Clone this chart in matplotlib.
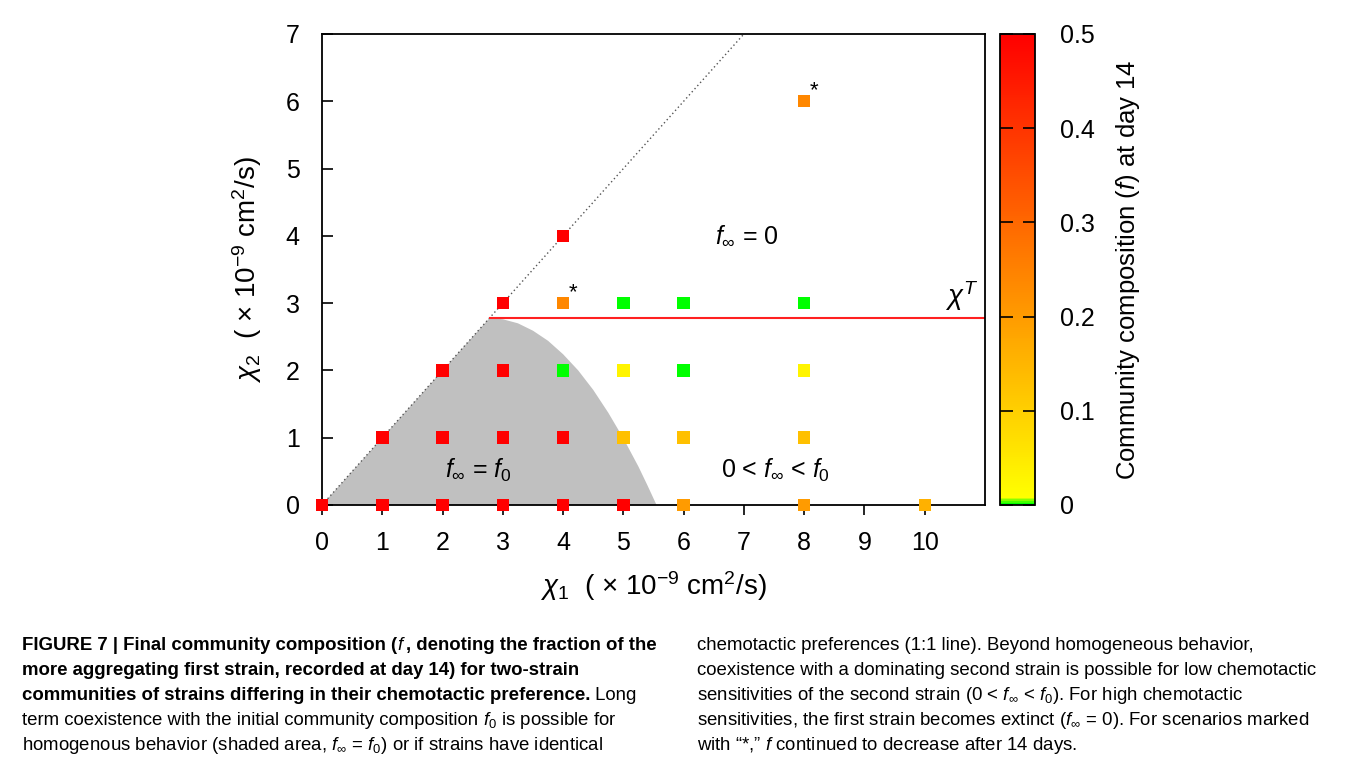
import numpy as np
import matplotlib
matplotlib.use("Agg")
import matplotlib.pyplot as plt
from matplotlib.colors import LinearSegmentedColormap, Normalize
from matplotlib.patches import Polygon

plt.rcParams['font.family'] = ['Liberation Sans', 'DejaVu Sans']
plt.rcParams['mathtext.fontset'] = 'custom'
plt.rcParams['mathtext.rm'] = 'Liberation Sans'
plt.rcParams['mathtext.it'] = 'Liberation Sans:italic'
plt.rcParams['mathtext.bf'] = 'Liberation Sans:bold'

# simulated scenarios: chi1, chi2, community composition f at day 14
chi1 = [0, 1, 2, 3, 4, 5, 6, 8, 10,
        1, 2, 3, 4, 5, 6, 8,
        2, 3, 4, 5, 6, 8,
        3, 4, 5, 6, 8,
        4, 8]
chi2 = [0, 0, 0, 0, 0, 0, 0, 0, 0,
        1, 1, 1, 1, 1, 1, 1,
        2, 2, 2, 2, 2, 2,
        3, 3, 3, 3, 3,
        4, 6]
f14 = [0.5, 0.5, 0.5, 0.5, 0.5, 0.5, 0.2, 0.2, 0.16,
       0.5, 0.5, 0.5, 0.5, 0.13, 0.13, 0.13,
       0.5, 0.5, 0.0, 0.03, 0.0, 0.03,
       0.5, 0.24, 0.0, 0.0, 0.0,
       0.5, 0.24]
star_x = [4, 8]
star_y = [3, 6]

# threshold chi^T and boundary of homogeneous region
chi_T = 2.78
bound_x = [2.78, 3.0, 3.25, 3.5, 3.75, 4.0, 4.25, 4.5, 4.75, 5.0, 5.25, 5.4, 5.55]
bound_y = [2.78, 2.76, 2.70, 2.59, 2.44, 2.24, 2.00, 1.71, 1.37, 0.99, 0.57, 0.29, 0.0]

cmap = LinearSegmentedColormap.from_list(
    'fcomp', [(0.0, '#00ff00'), (0.015, '#ffff00'), (1.0, '#ff0000')])
norm = Normalize(0, 0.5)

fig = plt.figure(figsize=(13.56, 7.62), dpi=100)
ax = fig.add_axes([0.2375, 0.3373, 0.4889, 0.6181])

# shaded area
poly_x = [0] + bound_x
poly_y = [0] + bound_y
ax.add_patch(Polygon(np.c_[poly_x, poly_y], closed=True, color='#c0c0c0', lw=0, zorder=1))

ax.plot([0, 7], [0, 7], ls=(0, (1, 2)), color='#555555', lw=1, zorder=2)
ax.plot([chi_T, 11], [chi_T, chi_T], color='#ff2020', lw=1.5, zorder=2)

ax.scatter(chi1, chi2, c=f14, cmap=cmap, norm=norm, marker='s', s=80,
           linewidths=0, zorder=5, clip_on=False)
for sx, sy in zip(star_x, star_y):
    ax.text(sx + 0.17, sy + 0.16, '*', fontsize=16, ha='center', va='center', zorder=6)

ax.text(7.05, 4.0, r'$f_\infty$ = 0', fontsize=18, ha='center', va='center')
ax.text(2.6, 0.52, r'$f_\infty$ = $f_0$', fontsize=18, ha='center', va='center')
ax.text(7.52, 0.52, r'0 < $f_\infty$ < $f_0$', fontsize=18, ha='center', va='center')
ax.text(10.62, 3.1, r'$\chi^T$', fontsize=20, ha='center', va='center')

ax.set_xlim(0, 11)
ax.set_ylim(0, 7)
ax.set_xticks([0, 1, 2, 3, 4, 5, 6, 7, 8, 9, 10])
ax.set_yticks([0, 1, 2, 3, 4, 5, 6, 7])
ax.tick_params(axis='x', direction='out', length=7, width=1.2, labelsize=18, pad=12)
ax.tick_params(axis='y', direction='in', length=8, width=1.2, labelsize=18, pad=16)
for sp in ax.spines.values():
    sp.set_linewidth(1.3)
ax.set_xlabel(r'$\chi_{\it 1}$  ( $\times$ 10$^{-9}$ cm$^2$/s)', fontsize=20, labelpad=10)
ax.set_ylabel(r'$\chi_2$  ( $\times$ 10$^{-9}$ cm$^2$/s)', fontsize=20, labelpad=16)

# colorbar
cax = fig.add_axes([0.7375, 0.3373, 0.0258, 0.6181])
sm = plt.cm.ScalarMappable(cmap=cmap, norm=norm)
cb = fig.colorbar(sm, cax=cax)
cb.set_ticks([0, 0.1, 0.2, 0.3, 0.4, 0.5])
cb.set_ticklabels(['0', '0.1', '0.2', '0.3', '0.4', '0.5'])
cax.tick_params(direction='in', length=9, width=1.2, labelsize=18, left=True, right=True, pad=18)
cb.outline.set_linewidth(1.3)
cb.set_label(r'Community composition ($\it{f}$) at day 14', fontsize=18.5, labelpad=14)

# caption
fig.canvas.draw()
renderer = fig.canvas.get_renderer()
cap_size = 13.4


def line(x0, y0, segments):
    x = x0
    for txt, weight in segments:
        t = fig.text(x, y0, txt, fontsize=cap_size, fontweight=weight,
                     va='baseline', ha='left')
        bb = t.get_window_extent(renderer=renderer)
        x += bb.width / fig.bbox.width


left_lines = [
    [('FIGURE 7 | Final community composition (', 'bold'), (r'$\mathbf{\it{f}}$', 'bold'),
     (', denoting the fraction of the', 'bold')],
    [('more aggregating first strain, recorded at day 14) for two-strain', 'bold')],
    [('communities of strains differing in their chemotactic preference.', 'bold'),
     (' Long', 'normal')],
    [('term coexistence with the initial community composition ', 'normal'),
     (r'$f_0$ is possible for', 'normal')],
    [(r'homogenous behavior (shaded area, $f_\infty$ = $f_0$) or if strains have identical', 'normal')],
]
right_lines = [
    'chemotactic preferences (1:1 line). Beyond homogeneous behavior,',
    'coexistence with a dominating second strain is possible for low chemotactic',
    r'sensitivities of the second strain (0 < $f_\infty$ < $f_0$). For high chemotactic',
    r'sensitivities, the first strain becomes extinct ($f_\infty$ = 0). For scenarios marked',
    'with \u201c*,\u201d $f$ continued to decrease after 14 days.',
]
line_y = [650, 675, 700, 725, 750]
for ly, segs in zip(line_y, left_lines):
    line(22 / 1356, 1 - ly / 762, segs)
for ly, txt in zip(line_y, right_lines):
    fig.text(697 / 1356, 1 - ly / 762, txt, fontsize=cap_size, va='baseline', ha='left')

fig.savefig('out.png', dpi=100)
